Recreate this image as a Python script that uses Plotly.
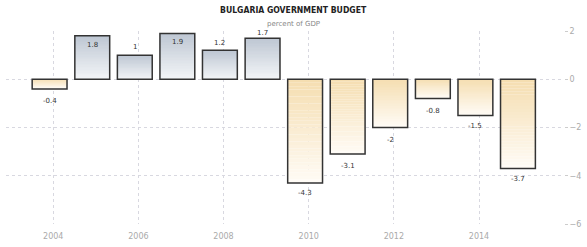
import plotly.graph_objects as go

years = [2003, 2004, 2005, 2006, 2007, 2008, 2009, 2010, 2011, 2012, 2013, 2014]
values = [-0.4, 1.8, 1.0, 1.9, 1.2, 1.7, -4.3, -3.1, -2.0, -0.8, -1.5, -3.7]
labels = ["-0.4", "1.8", "1", "1.9", "1.2", "1.7", "-4.3", "-3.1", "-2", "-0.8", "-1.5", "-3.7"]
title_text = "BULGARIA GOVERNMENT BUDGET"
subtitle_text = "percent of GDP"

dates = [f"{y}-12-01" for y in years]
DAY = 86400000
bar_w = 299 * DAY

def mix(c1, c2, t):
    return "rgb(%d,%d,%d)" % tuple(round(a + (b - a) * t) for a, b in zip(c1, c2))

pos_top, pos_bot = (190, 199, 211), (244, 246, 248)
neg_top, neg_bot = (245, 221, 176), (255, 252, 246)

fig = go.Figure()
N = 30
for k in range(N):
    cols = []
    for v in values:
        if v >= 0:
            t = 1 - (k + 0.5) / N  # fraction from top
            cols.append(mix(pos_top, pos_bot, t))
        else:
            t = (k + 0.5) / N
            cols.append(mix(neg_top, neg_bot, t))
    fig.add_trace(go.Bar(
        x=dates, y=[v / N for v in values], base=[v * k / N for v in values],
        width=bar_w, marker=dict(color=cols, line=dict(width=0)),
        hoverinfo="skip", showlegend=False))

fig.add_trace(go.Bar(
    x=dates, y=values, width=bar_w,
    marker=dict(color="rgba(0,0,0,0)", line=dict(color="#333333", width=1.5)),
    showlegend=False))

label_shift = [-12, -9, 8, -9, 7, 5, -10, -12, -12, -12, -11, -10]
for d, v, lab, s in zip(dates, values, labels, label_shift):
    fig.add_annotation(x=d, y=v, text=lab, showarrow=False, yshift=s,
                       font=dict(family="DejaVu Sans", size=7, color="#333333"))

fig.add_annotation(text="<b>" + title_text + "</b>", xref="paper", yref="paper",
                   x=0.516, y=1, yanchor="middle", yshift=21, showarrow=False,
                   font=dict(family="DejaVu Sans Condensed, Liberation Sans", size=8.6, color="#222222"))
fig.add_annotation(text=subtitle_text, xref="paper", yref="paper",
                   x=0.516, y=1, yanchor="middle", yshift=7, showarrow=False,
                   font=dict(family="DejaVu Sans", size=7, color="#888888"))

fig.update_layout(
    width=587, height=247, margin=dict(l=6, r=21, t=31, b=21),
    paper_bgcolor="white", plot_bgcolor="white", barmode="overlay",
    xaxis=dict(type="date", range=["2002-11-22", "2015-12-31"],
               tick0="2004-01-01", dtick="M24", tickformat="%Y",
               showgrid=True, gridcolor="#d8d8e0", griddash="dot", gridwidth=1,
               zeroline=False, showline=False, ticks="outside", ticklen=4,
               tickcolor="rgba(0,0,0,0)",
               tickfont=dict(family="DejaVu Sans", size=8, color="#aaaaaa")),
    yaxis=dict(range=[-6, 2], dtick=2, side="right",
               showgrid=True, gridcolor="#d8d8e0", griddash="dot", gridwidth=1,
               zeroline=False, showline=False, ticks="outside", ticklen=3,
               tickcolor="#cccccc",
               tickfont=dict(family="DejaVu Sans", size=8, color="#aaaaaa")),
)

fig.write_html("out.html")
